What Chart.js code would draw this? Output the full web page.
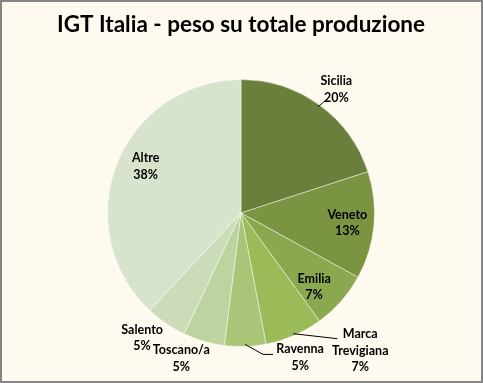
<!DOCTYPE html>
<html>
<head>
<meta charset="utf-8">
<script src="https://cdn.jsdelivr.net/npm/chart.js@4"></script>
<style>
  html, body { margin: 0; padding: 0; background: #fffaf0; }
  canvas { display: block; }
</style>
</head>
<body>
<canvas id="pie" width="483" height="383"></canvas>
<script>
// dati
const regioni = ['Sicilia', 'Veneto', 'Emilia', 'Marca Trevigiana', 'Ravenna', 'Toscano/a', 'Salento', 'Altre'];
const quote   = [20, 13, 7, 7, 5, 5, 5, 38];
const colori  = ['#6a7f3c', '#7a9442', '#8aa84e', '#9bbb59', '#a9c578', '#bdd3a0', '#ccdbb8', '#d8e3cb'];

// posizione etichette: inside -> frazione del raggio; outside -> offset dal bordo + linea guida
const etichette = [
  { out: true, dx: 18, dy: -17, lead: [[7, -6]] },
  { inside: 0.8 },
  { inside: 0.78, dx: -5, dy: 5 },
  { out: true, dx: 67, dy: 17, lead: [[44, 5]], lines: ['Marca', 'Trevigiana'] },
  { out: true, dx: 55, dy: 13, lead: [[18, 10], [28, 10]] },
  { out: true, dx: -23, dy: 19 },
  { out: true, dx: -25, dy: 16 },
  { inside: 0.8, dx: 4, dy: -7 }
];

const FONT = 'Lato, "Open Sans", sans-serif';

const sfondo = {
  id: 'sfondo',
  beforeDraw(chart) {
    const c = chart.ctx;
    c.save();
    c.fillStyle = '#fffaf0';
    c.fillRect(0, 0, chart.width, chart.height);
    c.strokeStyle = '#868686';
    c.lineWidth = 2;
    c.strokeRect(1, 1, chart.width - 2, chart.height - 2);
    c.restore();
  },
  afterDraw(chart) {
    const c = chart.ctx;
    c.save();
    c.fillStyle = '#000';
    c.textAlign = 'center';
    c.textBaseline = 'middle';
    c.font = 'bold 22.5px ' + FONT;
    c.fillText('IGT Italia - peso su totale produzione', 241, 25);

    c.font = 'bold 12.5px ' + FONT;
    c.strokeStyle = '#000';
    c.lineWidth = 1;
    chart.getDatasetMeta(0).data.forEach((arc, i) => {
      const cfg = etichette[i];
      const mid = (arc.startAngle + arc.endAngle) / 2;
      const righe = (cfg.lines || [regioni[i]]).concat([quote[i] + '%']);
      let x, y;
      if (cfg.inside) {
        x = arc.x + Math.cos(mid) * arc.outerRadius * cfg.inside + (cfg.dx || 0);
        y = arc.y + Math.sin(mid) * arc.outerRadius * cfg.inside + (cfg.dy || 0);
      } else {
        const ex = arc.x + Math.cos(mid) * (arc.outerRadius - 2);
        const ey = arc.y + Math.sin(mid) * (arc.outerRadius - 2);
        x = ex + cfg.dx;
        y = ey + cfg.dy;
        if (cfg.lead) {
          c.beginPath();
          c.moveTo(ex, ey);
          cfg.lead.forEach(p => c.lineTo(ex + p[0], ey + p[1]));
          c.stroke();
        }
      }
      const lh = 16.5;
      const y0 = y - (righe.length - 1) * lh / 2;
      righe.forEach((t, k) => c.fillText(t, x, y0 + k * lh));
    });
    c.restore();
  }
};

new Chart(document.getElementById('pie'), {
  type: 'pie',
  data: {
    labels: regioni,
    datasets: [{
      data: quote,
      backgroundColor: colori,
      borderColor: 'rgba(255,255,255,0.45)',
      borderWidth: 1
    }]
  },
  options: {
    responsive: false,
    animation: false,
    layout: { padding: { left: 107, right: 108, top: 79, bottom: 36 } },
    plugins: {
      legend: { display: false },
      title: { display: false },
      tooltip: { enabled: false }
    }
  },
  plugins: [sfondo]
});
</script>
</body>
</html>
